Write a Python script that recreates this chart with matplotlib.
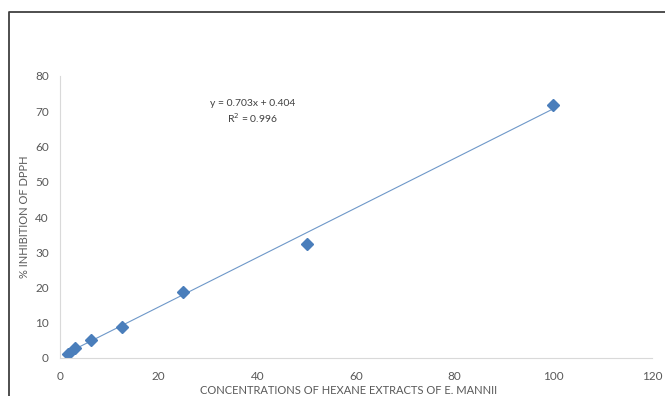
import numpy as np
import matplotlib.pyplot as plt
from matplotlib.lines import Line2D

plt.rcParams['font.family'] = ['Lato', 'DejaVu Sans']

# concentration (ug/ml) and % inhibition of DPPH
conc = [1.5625, 3.125, 6.25, 12.5, 25, 50, 100]
inhibition = [1.2, 2.7, 5.2, 8.8, 18.8, 32.4, 71.8]

# linear trendline
slope = 0.703
intercept = 0.404
r2 = 0.996

grey = '#595959'
blue = '#4a7ebb'

fig = plt.figure(figsize=(6.65, 3.96), dpi=100)
ax = fig.add_axes([60/665, 38/396, 592/665, 282/396])

xs = np.array([min(conc), max(conc)])
ax.plot(xs, slope*xs + intercept, color=blue, linewidth=0.8, alpha=0.8)
ax.plot(conc, inhibition, 'D', color=blue, markersize=6, linestyle='none')

ax.set_xlim(0, 120)
ax.set_ylim(0, 80)
ax.set_xticks(np.arange(0, 121, 20))
ax.set_yticks(np.arange(0, 81, 10))
ax.tick_params(length=0, labelsize=8.5, labelcolor=grey, pad=9)
ax.tick_params(axis='y', pad=8)

for s in ['top', 'right']:
    ax.spines[s].set_visible(False)
for s in ['left', 'bottom']:
    ax.spines[s].set_color('#d9d9d9')
    ax.spines[s].set_linewidth(0.8)

ax.set_ylabel('% INHIBITION OF DPPH', fontsize=8, color=grey, labelpad=4)
fig.text(349/665, 1 - 390/396, 'CONCENTRATIONS OF HEXANE EXTRACTS OF E. MANNII',
         fontsize=8, color=grey, ha='center', va='center')

sign = '+' if intercept >= 0 else '-'
ax.text(39, 72.3, 'y = %.3fx %s %.3f' % (slope, sign, abs(intercept)),
        fontsize=7.5, color='#404040', ha='center', va='center')
ax.text(39, 68.0, 'R$^2$ = %.3f' % r2,
        fontsize=7.5, color='#404040', ha='center', va='center')

# outer chart border
fig.add_artist(Line2D([8.5/665, 8.5/665, 1.01], [-0.05, 1 - 11.5/396, 1 - 11.5/396],
                      transform=fig.transFigure, color='#404040', linewidth=1.3))

fig.savefig('out.png', dpi=100)
